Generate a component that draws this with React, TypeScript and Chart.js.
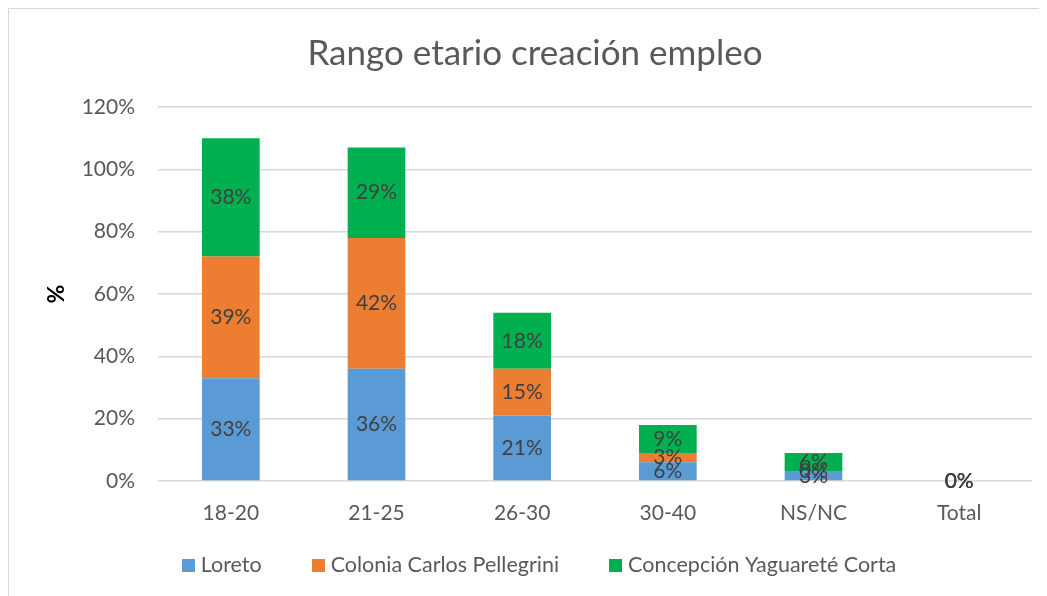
import { useEffect, useRef } from "react";
import { Chart, registerables } from "chart.js";

Chart.register(...registerables);

// Age ranges and the share of jobs created in each locality (percent)
const categories = ["18-20", "21-25", "26-30", "30-40", "NS/NC", "Total"];
const loreto = [33, 36, 21, 6, 3, 0];
const coloniaCarlosPellegrini = [39, 42, 15, 3, 0, 0];
const concepcionYaguareteCorta = [38, 29, 18, 9, 6, 0];

const seriesNames = ["Loreto", "Colonia Carlos Pellegrini", "Concepción Yaguareté Corta"];
const seriesColors = ["#5B9BD5", "#ED7D31", "#00B050"];

const yMin = 0;
const yMax = 120;
const yStep = 20;

const chartTitle = "Rango etario creación empleo";
const yAxisTitle = "%";

const FONT = "Lato, 'Open Sans', sans-serif";
const W = 1039;
const H = 588;

// White background plus the light frame around the chart object
const framePlugin = {
  id: "frame",
  beforeDraw(chart: any) {
    const { ctx } = chart;
    ctx.save();
    ctx.fillStyle = "#ffffff";
    ctx.fillRect(0, 0, chart.width, chart.height);
    ctx.strokeStyle = "#d9d9d9";
    ctx.lineWidth = 1;
    ctx.beginPath();
    ctx.moveTo(0.5, chart.height);
    ctx.lineTo(0.5, 0.5);
    ctx.lineTo(chart.width, 0.5);
    ctx.stroke();
    ctx.restore();
  },
};

const titlePlugin = {
  id: "chartTitle",
  afterDraw(chart: any) {
    const { ctx } = chart;
    ctx.save();
    ctx.font = `35px ${FONT}`;
    ctx.fillStyle = "#595959";
    ctx.textAlign = "center";
    ctx.textBaseline = "middle";
    ctx.fillText(chartTitle, 527, 46);
    ctx.restore();
  },
};

// Value labels centred in every stacked segment
const valueLabelPlugin = {
  id: "valueLabels",
  afterDatasetsDraw(chart: any) {
    const { ctx } = chart;
    ctx.save();
    ctx.font = `21px ${FONT}`;
    ctx.fillStyle = "#404040";
    ctx.textAlign = "center";
    ctx.textBaseline = "middle";
    chart.data.datasets.forEach((ds: any, di: number) => {
      const meta = chart.getDatasetMeta(di);
      meta.data.forEach((bar: any, i: number) => {
        const v = ds.data[i];
        const y = (bar.y + bar.base) / 2;
        ctx.fillText(`${v}%`, bar.x, y);
      });
    });
    ctx.restore();
  },
};

const legendPlugin = {
  id: "bottomLegend",
  afterDraw(chart: any) {
    const { ctx } = chart;
    const box = 13;
    const boxGap = 6;
    const itemGap = 50;
    const centerX = 531;
    const centerY = 557;
    ctx.save();
    ctx.font = `21.5px ${FONT}`;
    const items = chart.data.datasets.map((ds: any) => ({
      label: ds.label,
      color: ds.backgroundColor,
      w: ctx.measureText(ds.label).width,
    }));
    const total =
      items.reduce((s: number, it: any) => s + box + boxGap + it.w, 0) +
      itemGap * (items.length - 1);
    let x = centerX - total / 2;
    ctx.textBaseline = "middle";
    ctx.textAlign = "left";
    items.forEach((it: any) => {
      ctx.fillStyle = it.color;
      ctx.fillRect(Math.round(x), Math.round(centerY - box / 2), box, box);
      ctx.fillStyle = "#595959";
      ctx.fillText(it.label, x + box + boxGap, centerY);
      x += box + boxGap + it.w + itemGap;
    });
    ctx.restore();
  },
};

export default function App() {
  const canvasRef = useRef<HTMLCanvasElement | null>(null);

  useEffect(() => {
    const canvas = canvasRef.current;
    if (!canvas) return;
    const seriesValues = [loreto, coloniaCarlosPellegrini, concepcionYaguareteCorta];
    const chart = new Chart(canvas, {
      type: "bar",
      data: {
        labels: categories,
        datasets: seriesValues.map((values, i) => ({
          label: seriesNames[i],
          data: values,
          backgroundColor: seriesColors[i],
          borderWidth: 0,
          categoryPercentage: 1,
          barPercentage: 0.396,
        })),
      },
      options: {
        responsive: false,
        animation: false,
        devicePixelRatio: 1,
        layout: { padding: { top: 99, right: 15, bottom: 0, left: 0 } },
        plugins: {
          legend: { display: false },
          title: { display: false },
          tooltip: { enabled: false },
        },
        scales: {
          x: {
            stacked: true,
            grid: { display: false, drawTicks: false },
            border: { display: false },
            ticks: {
              color: "#595959",
              font: { family: FONT, size: 21 },
              padding: 20,
              maxRotation: 0,
            },
            afterFit(scale: any) {
              scale.height = 115;
            },
          },
          y: {
            stacked: true,
            min: yMin,
            max: yMax,
            ticks: {
              stepSize: yStep,
              color: "#595959",
              font: { family: FONT, size: 21 },
              padding: 23,
              callback: (v: any) => `${v}%`,
            },
            grid: { color: "#d9d9d9", lineWidth: 1.5, drawTicks: false },
            border: { display: false },
            title: {
              display: true,
              text: yAxisTitle,
              color: "#000000",
              font: { family: FONT, size: 23, weight: "bold" },
              padding: { top: 35, bottom: 0 },
            },
            afterFit(scale: any) {
              scale.width = 150;
            },
          },
        },
      },
      plugins: [framePlugin, valueLabelPlugin, titlePlugin, legendPlugin],
    });
    return () => chart.destroy();
  }, []);

  return (
    <canvas
      ref={canvasRef}
      width={W}
      height={H}
      style={{ display: "block", width: `${W}px`, height: `${H}px` }}
    />
  );
}
